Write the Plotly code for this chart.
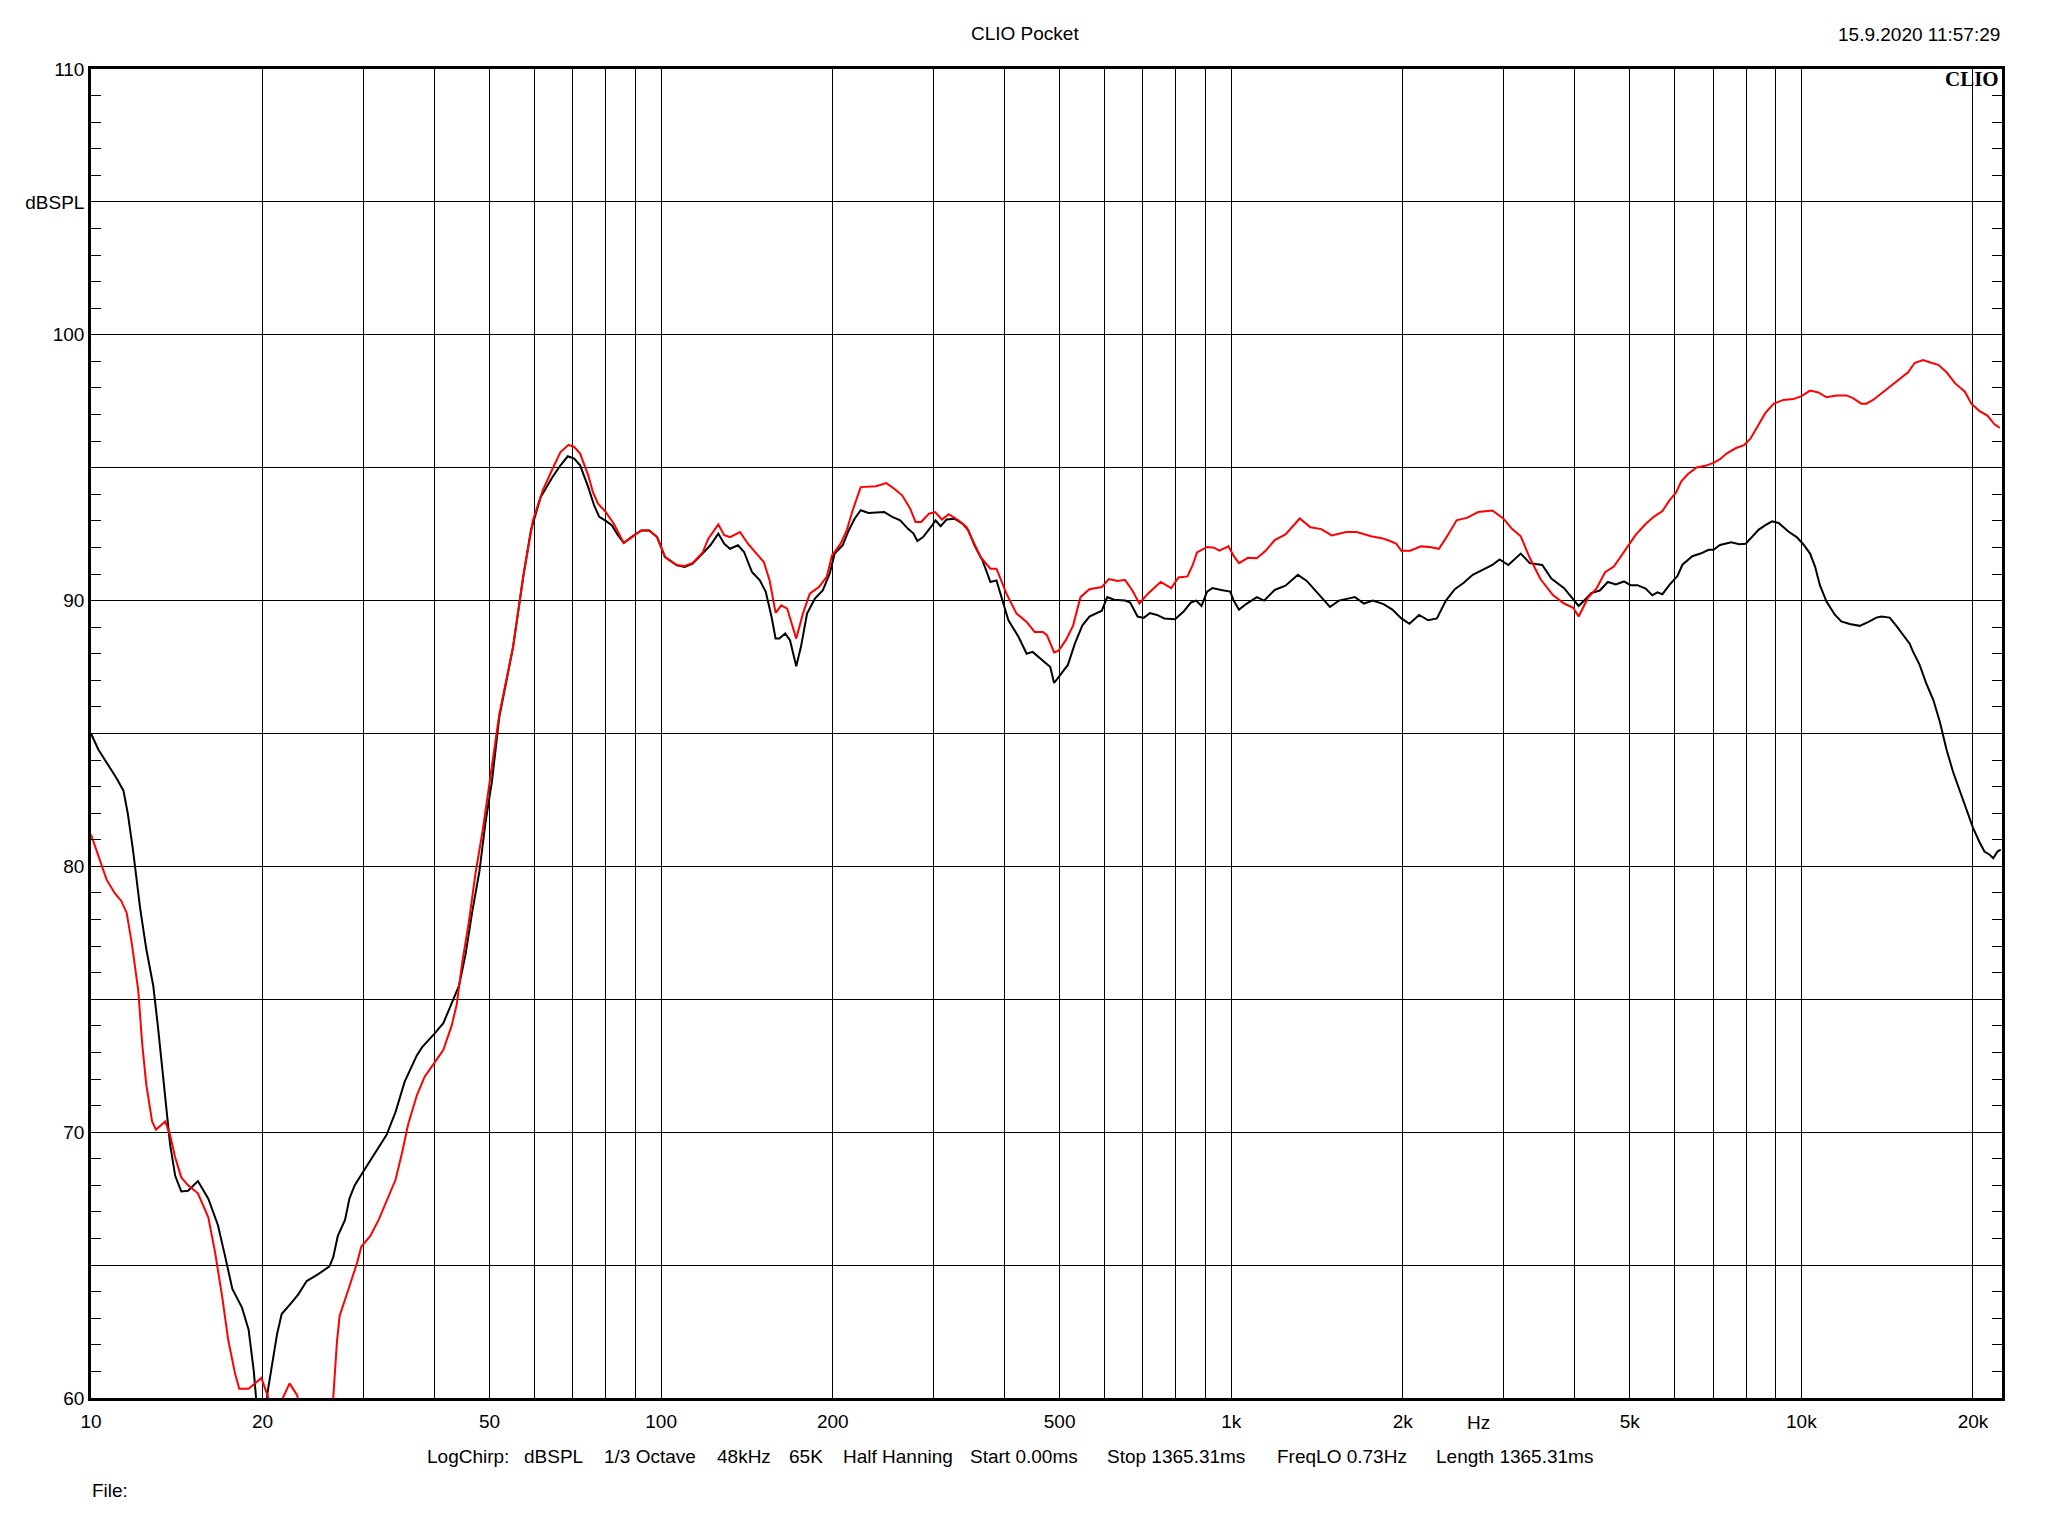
import plotly.graph_objects as go

# ---------------- data ----------------
black_freq = [10.0, 10.3, 10.8, 11.1, 11.4, 11.6, 11.85, 12.2, 12.5, 12.86, 13.1, 13.5, 13.76, 14.05, 14.4, 14.8,
              15.4, 16.06, 16.7, 17.2, 17.7, 18.4, 18.9, 19.3, 19.5, 19.75, 20.1, 20.4, 21.2, 21.6, 22.5, 23.1,
              23.9, 25.0, 26.2, 26.6, 27.1, 27.9, 28.4, 29.0, 30.0, 31.5, 33.0, 34.2, 35.5, 37.3, 38.1, 40.0,
              41.5, 43.2, 44.2, 45.4, 46.6, 48.0, 49.2, 50.5, 52.0, 55.0, 57.3, 59.1, 61.5, 64.5, 66.6, 68.6,
              70.4, 72.1, 74.5, 76.3, 77.9, 80.0, 82.0, 84.0, 86.0, 88.7, 92.3, 95.3, 98.4, 101.6, 106.6, 110.0,
              113.6, 118.2, 122.0, 126.0, 129.0, 132.1, 136.4, 139.8, 144.3, 149.0, 152.6, 156.2, 158.8, 161.2,
              165.1, 168.3, 172.6, 175.9, 180.3, 186.1, 192.2, 197.6, 201.6, 208.2, 213.3, 218.5, 223.9, 231.1,
              246.3, 254.4, 262.6, 271.1, 277.2, 281.5, 288.1, 297.4, 303.0, 309.2, 316.8, 327.0, 337.7, 346.0,
              354.5, 366.1, 378.1, 387.5, 396.8, 406.6, 423.7, 437.7, 448.4, 463.5, 481.6, 489, 502, 517, 532,
              548, 564, 593, 606, 623, 651, 665, 685, 702, 720, 741, 763, 797, 826, 850, 868, 887, 907, 927, 960,
              996, 1010, 1032, 1062, 1109, 1142, 1192, 1245, 1309, 1357, 1438, 1490, 1545, 1648, 1709, 1772,
              1850, 1917, 1988, 2054, 2136, 2215, 2295, 2380, 2467, 2558, 2652, 2770, 2872, 2956, 3062, 3220,
              3339, 3512, 3644, 3836, 3980, 4068, 4190, 4280, 4430, 4578, 4727, 4885, 5020, 5158, 5332, 5478,
              5591, 5707, 5866, 6064, 6187, 6438, 6656, 6879, 7014, 7201, 7534, 7786, 7987, 8200, 8423, 8650,
              8887, 9123, 9490, 9814, 10080, 10360, 10570, 10780, 11070, 11450, 11750, 12160, 12660, 13090,
              13540, 13810, 14290, 14680, 15180, 15490, 15700, 16120, 16560, 17040, 17500, 17980, 18460, 18960,
              19460, 20000, 20540, 20950, 21370, 21710, 22080, 22380]
black_db = [85.0, 84.4, 83.7, 83.3, 82.85, 82.0, 80.6, 78.4, 76.9, 75.5, 74.0, 71.4, 69.56, 68.36, 67.77, 67.8,
            68.16, 67.5, 66.5, 65.3, 64.1, 63.4, 62.57, 61.0, 60.0, 58.5, 58.5, 60.2, 62.4, 63.16, 63.6, 63.9,
            64.4, 64.65, 64.95, 65.3, 66.1, 66.7, 67.5, 68.0, 68.5, 69.2, 69.9, 70.75, 71.9, 72.9, 73.2, 73.7,
            74.1, 75.0, 75.5, 76.7, 78.25, 79.8, 81.66, 83.2, 85.6, 88.26, 90.9, 92.64, 93.9, 94.65, 95.09, 95.43,
            95.34, 95.09, 94.27, 93.58, 93.15, 93.0, 92.83, 92.46, 92.17, 92.39, 92.64, 92.64, 92.39, 91.64, 91.33, 91.27,
            91.39, 91.77, 92.08, 92.52, 92.14, 91.95, 92.08, 91.83, 91.08, 90.76, 90.33, 89.39, 88.57, 88.57,
            88.76, 88.51, 87.53, 88.26, 89.51, 90.08, 90.39, 91.02, 91.77, 92.08, 92.64, 93.08, 93.40, 93.3,
            93.33, 93.15, 93.02, 92.7, 92.52, 92.24, 92.39, 92.77, 93.02, 92.8, 93.05, 93.08, 92.9, 92.64,
            92.08, 91.52, 90.7, 90.76, 90.01, 89.26, 88.63, 88.0, 88.07, 87.82, 87.5, 86.9, 87.2, 87.58, 88.39,
            89.06, 89.4, 89.62, 90.13, 90.03, 90.0, 89.93, 89.4, 89.35, 89.53, 89.46, 89.33, 89.3, 89.6, 89.93, 90.0, 89.8, 90.34, 90.47, 90.4,
            90.34, 90.0, 89.66, 89.87, 90.13, 90.0, 90.4, 90.56, 90.97, 90.74, 90.13, 89.76, 90.0, 90.13, 89.89, 90.0,
            89.87, 89.66, 89.33, 89.13, 89.46, 89.26, 89.33, 90.0, 90.43, 90.67, 90.97, 91.18, 91.34, 91.55, 91.34, 91.77,
            91.41, 91.34, 90.83, 90.47, 90.07, 89.8, 90.07, 90.28, 90.38, 90.7, 90.61, 90.72, 90.58, 90.58, 90.45, 90.2,
            90.31, 90.24, 90.58, 90.93, 91.35, 91.67, 91.77, 91.91, 91.91, 92.09, 92.19, 92.12, 92.14, 92.39, 92.67, 92.84,
            92.98, 92.92, 92.6, 92.39, 92.12, 91.77, 91.28, 90.58, 89.96, 89.47, 89.22, 89.12, 89.05, 89.19,
            89.36, 89.4, 89.36, 89.05, 88.64, 88.38, 88.08, 87.59, 86.89, 86.27, 85.43, 84.39, 83.55, 82.86,
            82.16, 81.46, 80.91, 80.56, 80.45, 80.31, 80.56, 80.63]

red_freq = [10.0, 10.4, 10.65, 11.0, 11.3, 11.55, 11.8, 12.1, 12.3, 12.5, 12.8, 13.0, 13.5, 13.76, 14.05, 14.4,
            14.8, 15.4, 16.06, 16.5, 17.0, 17.4, 17.9, 18.2, 18.9, 19.9, 20.4, 20.9, 21.3, 21.7, 22.3, 23.0,
            23.5, 25.5, 26.6, 27.0, 27.3, 28.3, 29.3, 29.8, 30.9, 31.95, 32.8, 34.2, 35.1, 36.0, 37.3, 38.5,
            40.0, 41.5, 42.9, 43.8, 44.8, 46.0, 47.3, 48.6, 49.9, 52.0, 55.0, 57.3, 59.6, 62.0, 64.5, 66.6,
            68.8, 70.4, 72.1, 74.5, 75.9, 77.5, 80.0, 82.6, 86.0, 88.7, 92.3, 95.3, 98.4, 101.6, 106.6, 110.0,
            113.6, 118.2, 121.0, 126.0, 129.0, 132.1, 137.5, 142.0, 147.8, 151.4, 155.0, 158.8, 162.5, 166.4,
            172.6, 177.3, 182.3, 189.1, 195.2, 199.4, 206.5, 211.6, 216.8, 223.9, 238.2, 248.4, 256.4, 264.7,
            273.5, 279.4, 285.9, 295.0, 302.4, 310.9, 319.5, 332.3, 343.2, 354.5, 363.2, 378.1, 387.5, 403.4,
            420.2, 437.7, 452.0, 467.5, 475.1, 489, 498, 513, 528, 544, 564, 593, 610, 632, 651, 670, 690, 715,
            752, 785, 808, 838, 856, 871, 907, 933, 953, 989, 1010, 1032, 1070, 1109, 1150, 1192, 1245, 1319,
            1377, 1438, 1501, 1590, 1660, 1759, 1837, 1890, 1946, 1988, 2060, 2151, 2231, 2314, 2380, 2485,
            2596, 2711, 2872, 3000, 3110, 3220, 3339, 3486, 3670, 3836, 3980, 4068, 4223, 4370, 4527, 4690,
            4790, 4953, 5122, 5332, 5515, 5707, 5866, 6032, 6154, 6328, 6551, 6786, 7014, 7201, 7393, 7684,
            7936, 8141, 8423, 8650, 8949, 9300, 9680, 10010, 10360, 10710, 11070, 11530, 12000, 12320, 12740,
            13000, 13360, 13810, 14290, 14880, 15390, 15800, 16340, 16790, 17390, 17980, 18600, 19360, 19870,
            20540, 21200, 21800, 22290]
red_db = [81.2, 80.1, 79.5, 79.0, 78.7, 78.25, 77.06, 75.35, 73.3, 71.8, 70.4, 70.1, 70.4, 69.9, 69.05, 68.3,
          68.0, 67.7, 66.8, 65.5, 63.76, 62.2, 60.9, 60.35, 60.35, 60.75, 60.1, 59.0, 59.0, 60.0, 60.55, 60.1,
          59.0, 58.5, 60.0, 62.1, 63.1, 64.1, 65.1, 65.7, 66.1, 66.7, 67.3, 68.2, 69.2, 70.3, 71.4, 72.1,
          72.6, 73.1, 74.0, 74.8, 76.4, 77.9, 79.8, 81.3, 83.0, 85.7, 88.26, 90.9, 93.02, 94.15, 94.96, 95.59,
          95.86, 95.78, 95.53, 94.71, 94.09, 93.65, 93.33, 92.89, 92.17, 92.39, 92.64, 92.64, 92.39, 91.64, 91.33, 91.3,
          91.42, 91.8, 92.33, 92.87, 92.46, 92.39, 92.58, 92.14, 91.7, 91.45, 90.76, 89.54, 89.82, 89.7,
          88.57, 89.51, 90.26, 90.51, 90.89, 91.7, 92.14, 92.64, 93.40, 94.27, 94.3, 94.42, 94.21, 93.96,
          93.46, 92.96, 92.96, 93.27, 93.33, 93.05, 93.25, 93.02, 92.77, 92.14, 91.64, 91.2, 91.2, 90.26,
          89.51, 89.2, 88.82, 88.82, 88.7, 88.05, 88.12, 88.52, 89.06, 90.13, 90.43, 90.51, 90.81, 90.74, 90.78, 90.4, 89.89, 90.27,
          90.7, 90.47, 90.87, 90.91, 91.34, 91.81, 92.02, 91.99, 91.88, 92.04, 91.68, 91.41, 91.61, 91.59, 91.88, 92.28, 92.49, 93.09,
          92.76, 92.69, 92.45, 92.58, 92.58, 92.42, 92.35, 92.26, 92.15, 91.88, 91.88, 92.04, 92.02, 91.95, 92.35, 93.02,
          93.12, 93.33, 93.39, 93.09, 92.69, 92.42, 91.61, 90.81, 90.2, 89.89, 89.73, 89.4, 90.1, 90.45, 91.07, 91.28,
          91.56, 91.98, 92.47, 92.88, 93.16, 93.37, 93.76, 94.07, 94.48, 94.76, 95.01, 95.07, 95.18, 95.32, 95.53, 95.74,
          95.85, 96.09, 96.64, 97.06, 97.41, 97.55, 97.58, 97.69, 97.9, 97.83, 97.65, 97.72, 97.72, 97.62, 97.41,
          97.41, 97.55, 97.8, 98.04, 98.36, 98.59, 98.94, 99.05, 98.97, 98.87, 98.59, 98.18, 97.86, 97.41,
          97.13, 96.96, 96.64, 96.5]

x_tick_vals = [10, 20, 50, 100, 200, 500, 1000, 2000, 5000, 10000, 20000]
x_tick_text = ["10", "20", "50", "100", "200", "500", "1k", "2k", "5k", "10k", "20k"]
x_grid_vals = [m * d for d in (10, 100, 1000, 10000) for m in range(1, 10) if m * d <= 22000]
y_tick_vals = [60, 65, 70, 75, 80, 85, 90, 95, 100, 105, 110]
y_tick_text = ["60", "", "70", "", "80", "", "90", "", "100", "dBSPL", "110"]

title_text = "CLIO Pocket"
date_text = "15.9.2020 11:57:29"
logo_text = "CLIO"
unit_text = "Hz"
file_text = "File:"
footer_items = ["LogChirp:", "dBSPL", "1/3 Octave", "48kHz", "65K", "Half Hanning",
                "Start 0.00ms", "Stop 1365.31ms", "FreqLO 0.73Hz", "Length 1365.31ms"]
footer_left_px = [426, 523, 603, 716, 788, 842, 969, 1106, 1276, 1435]

# ---------------- figure ----------------
W, H = 2048, 1536
L, R, T, B = 91, 46, 69, 138
PW, PH = W - L - R, H - T - B


def px_x(px):
    return (px - L) / PW


def px_y(py):
    return (H - B - py) / PH


FONT = "Liberation Sans, Arial, sans-serif"

fig = go.Figure()
fig.add_trace(go.Scatter(x=black_freq, y=black_db, mode="lines",
                         line=dict(color="#000000", width=2), hoverinfo="skip"))
fig.add_trace(go.Scatter(x=red_freq, y=red_db, mode="lines",
                         line=dict(color="#ff0000", width=2), hoverinfo="skip"))

fig.update_layout(
    width=W, height=H,
    margin=dict(l=L, r=R, t=T, b=B, pad=0),
    paper_bgcolor="white", plot_bgcolor="white",
    showlegend=False,
    font=dict(family=FONT, size=19, color="black"),
)

fig.update_xaxes(
    type="log", range=[1, 4.352],
    tickvals=x_tick_vals, ticktext=x_tick_text,
    showgrid=True, gridcolor="black", gridwidth=1,
    showline=True, linecolor="black", linewidth=2.5, mirror=True,
    ticks="", zeroline=False, ticklabelstandoff=4,
    tickfont=dict(family=FONT, size=19, color="black"),
    minor=dict(tickvals=x_grid_vals, showgrid=True, gridcolor="black", gridwidth=1, ticks=""),
)
fig.update_yaxes(
    range=[60, 110],
    tickvals=y_tick_vals, ticktext=y_tick_text,
    showgrid=True, gridcolor="black", gridwidth=1,
    showline=True, linecolor="black", linewidth=2.5, mirror="ticks",
    ticks="inside", ticklen=10, tickcolor="black", tickwidth=1,
    zeroline=False,
    tickfont=dict(family=FONT, size=19, color="black"),
    minor=dict(dtick=1, ticks="inside", ticklen=10, tickcolor="black", tickwidth=1, showgrid=False),
)

ann = []
ann.append(dict(text=title_text, x=px_x(1025), y=px_y(34), xanchor="center", yanchor="middle"))
ann.append(dict(text=date_text, x=px_x(2001), y=px_y(35), xanchor="right", yanchor="middle"))
ann.append(dict(text="<b>" + logo_text + "</b>", x=px_x(2000), y=px_y(79), xanchor="right", yanchor="middle",
                font=dict(family="Liberation Serif, Times New Roman, serif", size=21, color="black")))
ann.append(dict(text=unit_text, x=px_x(1478), y=px_y(1422), xanchor="center", yanchor="middle"))
ann.append(dict(text=file_text, x=px_x(91), y=px_y(1490), xanchor="left", yanchor="middle"))
for t, lx in zip(footer_items, footer_left_px):
    ann.append(dict(text=t, x=px_x(lx), y=px_y(1456), xanchor="left", yanchor="middle"))
for a in ann:
    a.update(xref="paper", yref="paper", showarrow=False, borderpad=0)
    a.setdefault("font", dict(family=FONT, size=19, color="black"))
fig.update_layout(annotations=ann)

fig.write_html("out.html", config={"displayModeBar": False},
               post_script="document.body.style.margin='0';")
